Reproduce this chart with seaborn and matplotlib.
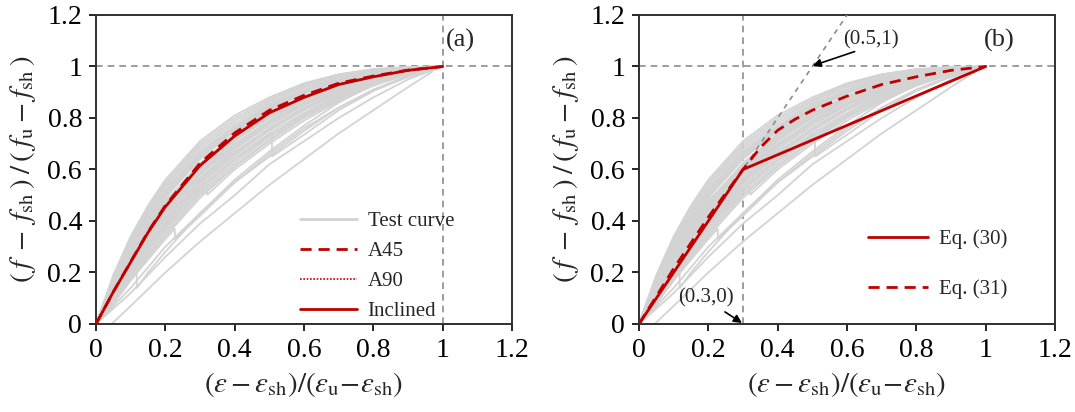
import numpy as np
import pandas as pd
import matplotlib
matplotlib.use("Agg")
import matplotlib.pyplot as plt
from matplotlib.lines import Line2D
import seaborn as sns

# ---------------- data ----------------
# normalised strain grid shared by most test curves
grid = [0, 0.05, 0.1, 0.15, 0.2, 0.3, 0.4, 0.5, 0.6, 0.7, 0.8, 0.9, 1.0]

# normalised stress of the individual test curves on that grid
test_curves = [
    [0, .19, .34, .46, .56, .71, .81, .88, .935, .97, .99, .998, 1],
    [0, .185, .33, .45, .55, .70, .80, .872, .93, .968, .989, .997, 1],
    [0, .18, .32, .44, .54, .69, .79, .865, .925, .965, .988, .997, 1],
    [0, .175, .315, .43, .53, .68, .78, .857, .918, .96, .986, .996, 1],
    [0, .17, .31, .42, .52, .67, .77, .85, .91, .955, .985, .996, 1],
    [0, .165, .305, .415, .512, .662, .765, .845, .908, .952, .983, .995, 1],
    [0, .16, .30, .41, .505, .655, .76, .84, .905, .95, .982, .995, 1],
    [0, .155, .295, .405, .497, .647, .755, .835, .9, .948, .98, .994, 1],
    [0, .15, .29, .40, .49, .64, .75, .83, .895, .945, .978, .994, 1],
    [0, .15, .28, .385, .475, .625, .735, .82, .885, .94, .975, .993, 1],
    [0, .145, .275, .378, .468, .618, .728, .815, .88, .935, .972, .992, 1],
    [0, .14, .27, .37, .46, .61, .72, .81, .875, .93, .97, .992, 1],
    [0, .135, .265, .365, .455, .605, .715, .805, .872, .928, .968, .991, 1],
    [0, .13, .26, .36, .45, .60, .71, .80, .87, .925, .967, .99, 1],
    [0, .13, .25, .35, .44, .59, .70, .79, .86, .92, .963, .99, 1],
    [0, .125, .245, .345, .435, .585, .695, .785, .858, .918, .962, .989, 1],
    [0, .12, .24, .34, .43, .58, .69, .78, .855, .915, .96, .988, 1],
    [0, .12, .235, .335, .425, .57, .68, .77, .85, .91, .957, .987, 1],
    [0, .11, .225, .325, .415, .56, .67, .76, .84, .905, .955, .986, 1],
    [0, .11, .22, .315, .40, .55, .665, .755, .835, .90, .95, .985, 1],
    [0, .10, .21, .305, .39, .54, .655, .75, .83, .895, .947, .984, 1],
    [0, .10, .20, .295, .38, .53, .645, .74, .82, .89, .945, .983, 1],
    [0, .09, .19, .285, .37, .52, .635, .73, .815, .885, .94, .98, 1],
    [0, .09, .185, .275, .36, .51, .625, .725, .81, .88, .937, .978, 1],
    [0, .085, .175, .265, .35, .50, .615, .715, .805, .875, .933, .977, 1],
    [0, .08, .17, .26, .34, .49, .61, .71, .80, .87, .93, .975, 1],
    [0, .17, .30, .40, .48, .61, .72, .81, .88, .935, .975, .995, 1],
    [0, .09, .19, .29, .38, .55, .68, .78, .86, .92, .965, .99, 1],
    [0, .14, .26, .36, .45, .62, .74, .83, .90, .95, .98, .996, 1],
    [0, .12, .22, .31, .40, .56, .69, .79, .87, .93, .97, .99, 1],
    [0, .16, .29, .39, .47, .60, .70, .78, .85, .91, .955, .985, 1],
    [0, .13, .24, .33, .41, .55, .66, .76, .84, .90, .95, .985, 1],
]

# test curves with their own strain points (late start, local load drops)
odd_x = [
    [0.045, 0.1, 0.2, 0.3, 0.4, 0.5, 0.6, 0.7, 0.8, 0.9, 0.97],
    [0, 0.1, 0.2, 0.3, 0.4, 0.5, 0.6, 0.7, 0.8, 0.9, 1.0],
    [0, 0.1, 0.2, 0.3, 0.4, 0.5, 0.6, 0.7, 0.8, 0.9, 1.0],
    [0, 0.05, 0.1, 0.15, 0.2, 0.3, 0.4, 0.5, 0.507, 0.508, 0.6, 0.7, 0.8, 0.9, 1.0],
    [0, 0.05, 0.1, 0.117, 0.118, 0.15, 0.2, 0.3, 0.4, 0.5, 0.6, 0.7, 0.8, 0.9, 1.0],
    [0, 0.05, 0.1, 0.15, 0.2, 0.3, 0.32, 0.321, 0.4, 0.5, 0.6, 0.7, 0.8, 0.9, 1.0],
    [0, 0.05, 0.1, 0.15, 0.2, 0.227, 0.228, 0.3, 0.4, 0.5, 0.6, 0.7, 0.8, 0.9, 1.0],
]
odd_y = [
    [0, .07, .20, .32, .43, .54, .64, .74, .83, .92, .98],
    [0, .12, .26, .39, .50, .62, .71, .80, .88, .95, 1],
    [0, .14, .30, .43, .55, .65, .75, .84, .91, .96, 1],
    [0, .11, .22, .31, .39, .53, .64, .735, .742, .651, .735, .83, .905, .96, 1],
    [0, .08, .17, .198, .14, .20, .28, .43, .56, .67, .77, .86, .93, .975, 1],
    [0, .10, .20, .29, .38, .51, .534, .502, .60, .70, .79, .865, .925, .97, 1],
    [0, .08, .17, .25, .33, .37, .33, .42, .55, .66, .76, .84, .91, .965, 1],
]

# proposed model curves, panel (a)
model_x = [0, 0.05, 0.1, 0.15, 0.2, 0.3, 0.4, 0.5, 0.6, 0.7, 0.8, 0.9, 1.0]
a45_y = [0, .125, .242, .358, .46, .625, .742, .83, .888, .935, .963, .986, 1]
a90_y = [0, .124, .24, .355, .455, .617, .732, .821, .881, .93, .96, .985, 1]
incl_y = [0, .125, .24, .355, .455, .615, .73, .82, .88, .93, .96, .985, 1]

# panel (b): bilinear Eq. (30) and Eq. (31)
eq30_x = [0, 0.3, 1.0]
eq30_y = [0, 0.6, 1.0]
eq31_x = [0, 0.1, 0.2, 0.3, 0.35, 0.4, 0.45, 0.5, 0.6, 0.7, 0.8, 0.9, 1.0]
eq31_y = [0, .215, .415, .6, .685, .752, .795, .83, .885, .93, .96, .985, 1]

# guide line of slope 2 through (0.3, 0.6) and (0.5, 1)
slope_line_x = [0, 0.6]
slope_line_y = [0, 1.2]

ticks = [0, 0.2, 0.4, 0.6, 0.8, 1.0, 1.2]
tick_labels = ["0", "0.2", "0.4", "0.6", "0.8", "1", "1.2"]

# ---------------- long-form table of the test curves ----------------
rows = []
cid = 0
for ys in test_curves:
    for x, y in zip(grid, ys):
        rows.append((cid, x, y))
    cid += 1
for xs, ys in zip(odd_x, odd_y):
    for x, y in zip(xs, ys):
        rows.append((cid, x, y))
    cid += 1
tests = pd.DataFrame(rows, columns=["curve", "x", "y"])

# ---------------- style ----------------
sns.set_theme(style="ticks")
plt.rcParams["font.family"] = ["Liberation Serif", "DejaVu Serif"]
plt.rcParams["mathtext.fontset"] = "stix"

RED = "#c00000"
GREY = "#d3d3d3"
GUIDE = "#8c8c8c"
TICK_FS = 20
XLAB_FS = 21
YLAB_FS = 21
LEG_FS = 15

fig = plt.figure(figsize=(10.75, 4.12), dpi=100)
ax1 = fig.add_axes([0.0893, 0.2136, 0.387, 0.75])
ax2 = fig.add_axes([0.5944, 0.2136, 0.387, 0.75])

xlabel = r"$(\varepsilon-\varepsilon_{\mathrm{sh}})/(\varepsilon_{\mathrm{u}}\!-\!\varepsilon_{\mathrm{sh}})$"
ylabel = (r"$(\:f\;-\;f_{\mathrm{sh}}\:)\:/\:(\:f_{\mathrm{u}}\:-\:f_{\mathrm{sh}}\:)$")

for ax in (ax1, ax2):
    ax.axhline(1.0, color=GUIDE, lw=1.2, ls=(0, (4, 3)), zorder=1)
    sns.lineplot(data=tests, x="x", y="y", units="curve", estimator=None,
                 sort=False, color=GREY, lw=1.3, ax=ax, legend=False, zorder=2)
    ax.set_xlim(0, 1.2)
    ax.set_ylim(0, 1.2)
    ax.set_xticks(ticks, tick_labels)
    ax.set_yticks(ticks, tick_labels)
    ax.tick_params(direction="out", length=5, width=1.2, labelsize=TICK_FS,
                   pad=5, colors="black")
    for s in ax.spines.values():
        s.set_visible(True)
        s.set_linewidth(1.4)
        s.set_color("#303030")
    ax.set_xlabel(xlabel, fontsize=XLAB_FS, labelpad=5)
    ax.set_ylabel(ylabel, fontsize=YLAB_FS, labelpad=7)

# panel (a)
ax1.axvline(1.0, color=GUIDE, lw=1.2, ls=(0, (4, 3)), zorder=1)
sns.lineplot(x=model_x, y=a45_y, color=RED, lw=2, ls=(0, (4, 2.5)), ax=ax1, zorder=4)
sns.lineplot(x=model_x, y=a90_y, color=RED, lw=1.2, ls=(0, (1, 1)), ax=ax1, zorder=4)
sns.lineplot(x=model_x, y=incl_y, color=RED, lw=2, ax=ax1, zorder=5)
ax1.text(1.05, 1.10, "(a)", fontsize=19, ha="center", va="center")
h1 = [Line2D([], [], color=GREY, lw=2),
      Line2D([], [], color=RED, lw=2, ls=(0, (4, 2.5))),
      Line2D([], [], color=RED, lw=1.2, ls=(0, (1, 1))),
      Line2D([], [], color=RED, lw=2)]
ax1.legend(h1, ["Test curve", "A45", "A90", "Inclined"], loc="upper left",
           bbox_to_anchor=(0.49, 0.365), frameon=False, fontsize=LEG_FS,
           handlelength=2.75, handletextpad=0.5, labelspacing=0.5,
           borderpad=0, borderaxespad=0)

# panel (b)
ax2.axvline(0.3, color=GUIDE, lw=1.2, ls=(0, (4, 3)), zorder=1)
sns.lineplot(x=slope_line_x, y=slope_line_y, color=GUIDE, lw=1.2,
             ls=(0, (3, 3)), ax=ax2, zorder=3)
sns.lineplot(x=eq30_x, y=eq30_y, color=RED, lw=2, ax=ax2, zorder=5)
sns.lineplot(x=eq31_x, y=eq31_y, color=RED, lw=2, ls=(0, (4, 2.5)), ax=ax2, zorder=5)
ax2.text(1.04, 1.10, "(b)", fontsize=19, ha="center", va="center")
ax2.text(0.669, 1.105, "(0.5,1)", fontsize=15, ha="center", va="center")
ax2.annotate("", xy=(0.501, 1.003), xytext=(0.622, 1.058),
             arrowprops=dict(arrowstyle="-|>", color="black", lw=1.2,
                             mutation_scale=12, shrinkA=0, shrinkB=0))
ax2.text(0.193, 0.10, "(0.3,0)", fontsize=15, ha="center", va="center")
ax2.annotate("", xy=(0.297, 0.004), xytext=(0.248, 0.047),
             arrowprops=dict(arrowstyle="-|>", color="black", lw=1.2,
                             mutation_scale=12, shrinkA=0, shrinkB=0))
h2 = [Line2D([], [], color=RED, lw=2),
      Line2D([], [], color=RED, lw=2, ls=(0, (4, 2.5)))]
ax2.legend(h2, ["Eq. (30)", "Eq. (31)"], loc="upper left",
           bbox_to_anchor=(0.55, 0.305), frameon=False, fontsize=LEG_FS,
           handlelength=2.9, handletextpad=0.5, labelspacing=1.45,
           borderpad=0, borderaxespad=0)

fig.savefig("out.png", dpi=100)
